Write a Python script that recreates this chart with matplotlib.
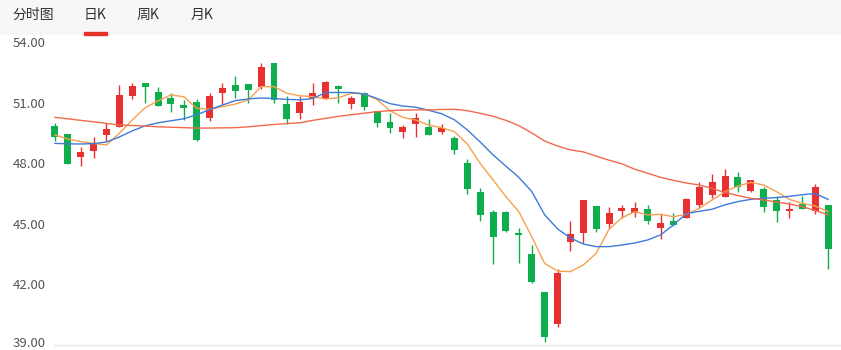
import numpy as np
import matplotlib
matplotlib.use("Agg")
import matplotlib.pyplot as plt
from matplotlib.patches import Rectangle
from matplotlib.transforms import ScaledTranslation

plt.rcParams['font.family'] = ['Noto Sans CJK SC', 'DejaVu Sans']

    # Daily candles
opens = [49.84, 49.45, 48.31, 48.62, 49.40, 49.81, 51.34, 51.95, 51.54, 51.21,
         50.88, 51.05, 50.25, 51.49, 51.87, 51.90, 51.79, 52.98, 50.93, 50.50,
         51.21, 51.18, 51.82, 50.91, 51.46, 50.57, 50.04, 49.54, 49.94, 49.81,
         49.53, 49.26, 47.99, 46.56, 45.60, 45.60, 44.52, 43.50, 41.62, 40.02,
         44.10, 44.56, 45.88, 45.00, 45.65, 45.55, 45.72, 44.81, 45.14, 45.30,
         45.93, 46.44, 46.34, 47.33, 46.64, 46.71, 46.18, 45.65, 45.98, 45.65,
         45.93]
highs = [50.00, 49.45, 48.82, 49.28, 49.97, 51.87, 51.99, 51.97, 51.76, 51.46,
         51.13, 51.16, 51.49, 51.99, 52.32, 51.92, 52.98, 52.98, 51.33, 51.33,
         51.95, 52.09, 51.87, 51.33, 51.52, 50.60, 50.47, 49.89, 50.47, 50.17,
         49.94, 49.36, 48.22, 46.76, 45.68, 45.65, 44.78, 43.95, 41.62, 42.75,
         45.14, 46.18, 45.88, 45.85, 45.93, 46.08, 45.92, 45.47, 45.52, 46.28,
         47.09, 47.45, 47.70, 47.55, 47.17, 46.84, 46.39, 46.06, 46.38, 46.97,
         45.93]
lows = [49.11, 47.96, 47.86, 48.24, 49.10, 49.81, 51.18, 51.00, 50.85, 50.55,
        50.14, 49.10, 50.10, 50.93, 51.24, 50.97, 51.66, 50.97, 49.92, 50.19,
        50.88, 51.18, 50.97, 50.70, 50.63, 49.81, 49.51, 49.26, 49.31, 49.41,
        49.43, 48.45, 46.48, 45.15, 43.00, 44.60, 43.08, 42.08, 39.16, 39.91,
        43.65, 44.03, 44.59, 44.79, 45.30, 45.35, 44.99, 44.23, 44.90, 45.30,
        45.80, 46.26, 46.34, 46.56, 46.57, 45.57, 45.10, 45.30, 45.73, 45.49,
        42.76]
closes = [49.31, 47.96, 48.57, 48.98, 49.69, 51.36, 51.81, 51.79, 50.85, 50.93,
          50.72, 49.15, 51.33, 51.71, 51.57, 51.62, 52.75, 51.13, 50.17, 51.05,
          51.46, 52.04, 51.69, 51.21, 50.77, 49.97, 49.76, 49.79, 50.22, 49.41,
          49.73, 48.65, 46.72, 45.44, 44.36, 44.66, 44.45, 42.10, 39.41, 42.58,
          44.50, 46.18, 44.76, 45.52, 45.77, 45.77, 45.15, 45.06, 44.94, 46.23,
          46.81, 47.09, 47.37, 46.82, 47.17, 45.85, 45.65, 45.73, 45.73, 46.81,
          43.74]

    # Moving averages
ma5 = [49.40, 49.20, 49.07, 48.98, 48.90, 49.48, 50.14, 50.75, 51.09, 51.38,
       51.29, 50.72, 50.67, 50.80, 50.93, 51.13, 51.79, 51.79, 51.46, 51.34,
       51.29, 51.18, 51.24, 51.46, 51.44, 51.15, 50.60, 50.27, 50.14, 49.89,
       49.76, 49.56, 48.95, 47.99, 47.17, 46.34, 45.60, 44.36, 43.04, 42.66,
       42.63, 42.96, 43.54, 44.73, 45.30, 45.60, 45.44, 45.47, 45.35, 45.47,
       45.77, 46.18, 46.59, 46.87, 47.05, 46.92, 46.59, 46.21, 46.01, 45.88,
       45.60]
ma10 = [48.98, 48.96, 48.95, 48.97, 49.05, 49.30, 49.60, 49.85, 50.00, 50.10,
        50.20, 50.40, 50.65, 50.88, 51.10, 51.18, 51.23, 51.20, 51.16, 51.14,
        51.20, 51.50, 51.50, 51.50, 51.43, 51.20, 50.95, 50.83, 50.77, 50.62,
        50.45, 50.15, 49.65, 49.05, 48.41, 47.85, 47.30, 46.60, 45.45, 44.75,
        44.30, 44.00, 43.87, 43.87, 43.95, 44.05, 44.20, 44.45, 44.95, 45.50,
        45.62, 45.72, 45.94, 46.10, 46.21, 46.26, 46.30, 46.36, 46.44, 46.50,
        46.21]
ma20 = [50.27, 50.20, 50.12, 50.05, 49.97, 49.89, 49.87, 49.84, 49.80, 49.78,
        49.76, 49.74, 49.74, 49.75, 49.76, 49.80, 49.86, 49.92, 49.96, 50.00,
        50.12, 50.22, 50.32, 50.40, 50.48, 50.55, 50.60, 50.63, 50.64, 50.64,
        50.66, 50.67, 50.60, 50.47, 50.32, 50.12, 49.86, 49.50, 49.10, 48.85,
        48.66, 48.56, 48.35, 48.15, 47.97, 47.70, 47.50, 47.30, 47.15, 47.02,
        46.92, 46.75, 46.55, 46.40, 46.26, 46.18, 46.08, 45.98, 45.85, 45.66,
        45.44]

tabs = ["分时图", "日K", "周K", "月K"]
yTicks = [39, 42, 45, 48, 51, 54]

UP, DOWN = '#e93030', '#0fae4c'
W, H = 841, 350

fig = plt.figure(figsize=(W / 100, H / 100), dpi=100)

    # Tab bar on top
fig.patches.append(Rectangle((0, 1 - 34 / H), 1, 34 / H, transform=fig.transFigure,
                             color='#f7f7f7', zorder=0))
tabX = [12, 84, 137, 191]
for t, x in zip(tabs, tabX):
    fig.text(x / W, 1 - 15 / H, t, fontsize=10, color='#333333', va='center', ha='left')
fig.patches.append(Rectangle((84 / W, 1 - 35 / H), 23 / W, 3 / H, transform=fig.transFigure,
                             color='#e8312f', zorder=1))

    # Axes placed so that 54 -> y=42px and 39 -> y=345px
left, right = 49.8, 841
ax = fig.add_axes([left / W, 1 - 345 / H, (right - left) / W, (345 - 42) / H])
ax.set_xlim(-0.4, 61.0)
ax.set_ylim(39, 54)

idx = np.arange(len(opens))
o, h, l, c = map(np.array, (opens, highs, lows, closes))
cols = np.where(c >= o, UP, DOWN)

    # Wicks and bodies
ax.vlines(idx, l, h, colors=cols, lw=1, zorder=2)
bodyH = np.maximum(np.abs(c - o), 0.04)
ax.bar(idx, bodyH, bottom=np.minimum(o, c), width=0.54, color=cols, zorder=3)

ax.plot(idx, ma5, color='#f7a04f', lw=1.0, zorder=4)
ax.plot(idx, ma10, color='#3d7bd9', lw=1.0, zorder=4)
ax.plot(idx, ma20, color='#f4694a', lw=1.0, zorder=4)

ax.hlines(39, -0.05, 61.0, color='#e6e6e6', lw=1, zorder=1, clip_on=False)

ax.set_yticks(yTicks)
ax.set_yticklabels([f"{v:.2f}" for v in yTicks])
ax.tick_params(axis='y', length=0, pad=3, labelsize=9.5, labelcolor='#555555')
ax.set_xticks([])
for s in ax.spines.values():
    s.set_visible(False)
ax.patch.set_alpha(0)

    # Nudge the bottom label up a little so it stays inside the picture
lab0 = ax.get_yticklabels()[0]
lab0.set_transform(lab0.get_transform() + ScaledTranslation(0, 3 / 100, fig.dpi_scale_trans))

fig.savefig("out.png", dpi=100)
